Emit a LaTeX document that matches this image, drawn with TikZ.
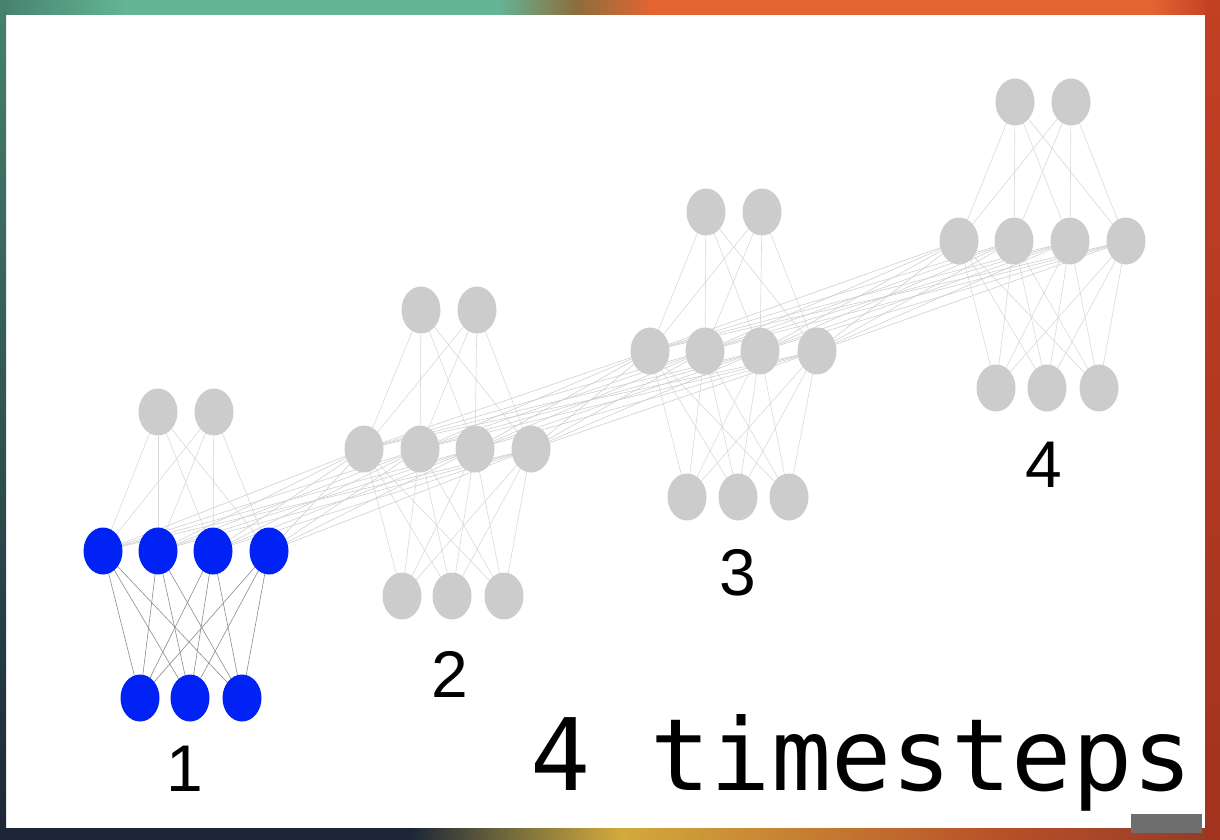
\documentclass[tikz,border=0pt]{standalone}
\usepackage{fontspec}
\usepackage{tikz}
\usepackage{tkz-graph}
\usetikzlibrary{arrows,%
                shapes,positioning,backgrounds}
\newfontfamily\stepfont{DejaVu Sans Mono}
\newfontfamily\labelfont{Liberation Sans}
\definecolor{netblue}{RGB}{0,34,245}
\definecolor{netgray}{RGB}{204,204,204}
\definecolor{edgedark}{RGB}{140,140,140}
\definecolor{edgelight}{RGB}{218,218,218}
\definecolor{edgecross}{RGB}{208,208,208}
\definecolor{tealdark}{RGB}{70,130,110}
\definecolor{teal}{RGB}{100,180,150}
\definecolor{rust}{RGB}{140,110,60}
\definecolor{orangeband}{RGB}{230,100,50}
\definecolor{redband}{RGB}{190,60,35}
\definecolor{navy}{RGB}{28,38,55}
\definecolor{olive}{RGB}{120,110,60}
\definecolor{gold}{RGB}{210,170,60}
\definecolor{brownband}{RGB}{150,60,40}
\definecolor{markgray}{RGB}{110,110,110}

\begin{document}
\begin{tikzpicture}[x=1pt,y=-1pt]
\useasboundingbox (0,0) rectangle (1220,840);
\SetVertexNoLabel
\tikzset{VertexStyle/.style={shape=ellipse, fill=netgray, draw=none,
                             minimum width=39pt, minimum height=47pt, inner sep=0pt},
         EdgeStyle/.style={line width=0.6pt}}

% timestep 1
\Vertex[x=158,y=412]{O1A}
\Vertex[x=214,y=412]{O1B}
\begin{scope}[VertexStyle/.append style={fill=netblue}]
\Vertex[x=103,y=551]{H1A}
\Vertex[x=158,y=551]{H1B}
\Vertex[x=213,y=551]{H1C}
\Vertex[x=269,y=551]{H1D}
\Vertex[x=140,y=698]{I1A}
\Vertex[x=190,y=698]{I1B}
\Vertex[x=242,y=698]{I1C}
\end{scope}

% timestep 2
\Vertex[x=421,y=310]{O2A}
\Vertex[x=477,y=310]{O2B}
\Vertex[x=364,y=449]{H2A}
\Vertex[x=420,y=449]{H2B}
\Vertex[x=475,y=449]{H2C}
\Vertex[x=531,y=449]{H2D}
\Vertex[x=402,y=596]{I2A}
\Vertex[x=452,y=596]{I2B}
\Vertex[x=504,y=596]{I2C}

% timestep 3
\Vertex[x=706,y=212]{O3A}
\Vertex[x=762,y=212]{O3B}
\Vertex[x=650,y=351]{H3A}
\Vertex[x=705,y=351]{H3B}
\Vertex[x=760,y=351]{H3C}
\Vertex[x=817,y=351]{H3D}
\Vertex[x=687,y=497]{I3A}
\Vertex[x=738,y=497]{I3B}
\Vertex[x=789,y=497]{I3C}

% timestep 4
\Vertex[x=1015,y=102]{O4A}
\Vertex[x=1071,y=102]{O4B}
\Vertex[x=959,y=241]{H4A}
\Vertex[x=1014,y=241]{H4B}
\Vertex[x=1070,y=241]{H4C}
\Vertex[x=1126,y=241]{H4D}
\Vertex[x=996,y=388]{I4A}
\Vertex[x=1047,y=388]{I4B}
\Vertex[x=1099,y=388]{I4C}

\node[inner sep=0pt] (L1) at (185,769) {\labelfont\fontsize{66}{66}\selectfont 1};
\node[inner sep=0pt] (L2) at (450,674) {\labelfont\fontsize{66}{66}\selectfont 2};
\node[inner sep=0pt] (L3) at (738,573) {\labelfont\fontsize{66}{66}\selectfont 3};
\node[inner sep=0pt] (L4) at (1044,465) {\labelfont\fontsize{66}{66}\selectfont 4};
\node[inner sep=0pt,anchor=base west] (T) at (530,790)
  {\stepfont\fontsize{100}{100}\selectfont 4 timesteps};

\begin{pgfonlayer}{background}
% frame
\fill[white] (0,0) rectangle (1220,840);
\shade[left color=tealdark, right color=teal] (0,0) rectangle (125,15);
\fill[teal] (125,0) rectangle (498,15);
\shade[left color=teal, right color=orangeband, middle color=rust] (498,0) rectangle (654,15);
\fill[orangeband] (654,0) rectangle (1150,15);
\shade[left color=orangeband, right color=redband] (1150,0) rectangle (1220,15);
\shade[top color=tealdark, bottom color=navy] (0,0) rectangle (6,840);
\shade[top color=redband!90!orangeband, bottom color=redband!85!black] (1205,0) rectangle (1220,840);
\fill[navy] (0,828) rectangle (410,840);
\shade[left color=navy, right color=gold, middle color=olive] (410,828) rectangle (620,840);
\shade[left color=gold, right color=orangeband!80!black] (620,828) rectangle (1000,840);
\shade[left color=orangeband!80!black, right color=brownband] (1000,828) rectangle (1205,840);
\fill[markgray] (1131,814) rectangle (1202,833);

% edges inside each timestep
\foreach \a in {A,B,C}{\foreach \b in {A,B,C,D}{\Edge[color=edgedark](I1\a)(H1\b)}}
\foreach \t in {2,3,4}{
  \foreach \a in {A,B,C}{\foreach \b in {A,B,C,D}{\Edge[color=edgelight](I\t\a)(H\t\b)}}}
\foreach \t in {1,2,3,4}{
  \foreach \a in {A,B,C,D}{\foreach \b in {A,B}{\Edge[color=edgelight](H\t\a)(O\t\b)}}}
% edges from one timestep to the next
\foreach \t/\u in {1/2,2/3,3/4}{
  \foreach \a in {A,B,C,D}{\foreach \b in {A,B,C,D}{\Edge[color=edgecross](H\t\a)(H\u\b)}}}
\end{pgfonlayer}
\end{tikzpicture}
\end{document}
